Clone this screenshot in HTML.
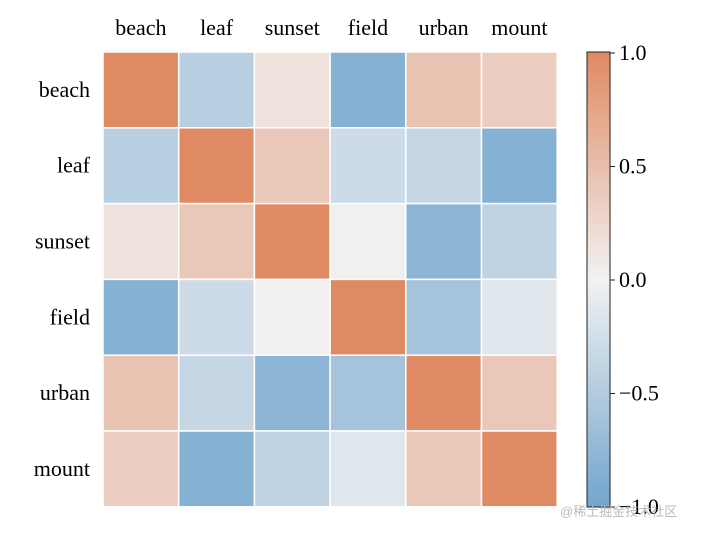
<!DOCTYPE html>
<html><head><meta charset="utf-8"><style>
body{margin:0;background:#fff;width:712px;height:532px;overflow:hidden;font-family:"Liberation Serif",serif;}
</style></head><body>
<svg id="chart" width="712" height="532" xmlns="http://www.w3.org/2000/svg">
<defs><linearGradient id="cbg" x1="0" y1="0" x2="0" y2="1">
<stop offset="0" stop-color="#df8a63"/><stop offset="0.5" stop-color="#f2f2f2"/><stop offset="1" stop-color="#72a5cc"/>
</linearGradient></defs>
<g id="cells"></g>
<g id="labels"></g>
<rect x="587" y="52" width="23" height="455" fill="url(#cbg)" stroke="#222" stroke-width="1"/>
<g id="cbticks"></g>
<text x="560" y="516" font-size="13" fill="#bbb" font-family="Liberation Sans,'Noto Sans CJK SC',sans-serif">@稀土掘金技术社区</text>
</svg>
<script>
const categories=["beach","leaf","sunset","field","urban","mount"];
const row0=[1,-0.45,0.15,-0.85,0.45,0.35];
const row1=[-0.45,1,0.4,-0.3,-0.35,-0.85];
const row2=[0.15,0.4,1,0.02,-0.8,-0.4];
const row3=[-0.85,-0.3,0.02,1,-0.6,-0.15];
const row4=[0.45,-0.35,-0.8,-0.6,1,0.4];
const row5=[0.35,-0.85,-0.4,-0.15,0.4,1];
const matrix=[row0,row1,row2,row3,row4,row5];
const cbTicks=[1.0,0.5,0.0,-0.5,-1.0];
const cbTickLabels=["1.0","0.5","0.0","\u22120.5","\u22121.0"];
const NS="http://www.w3.org/2000/svg";
const x0=103,y0=52,cw=75.7,ch=75.8;
function lerp(a,b,t){return a.map((v,i)=>Math.round(v+(b[i]-v)*t));}
function color(v){const o=[223,138,99],w=[242,242,242],b=[114,165,204];
 v=Math.max(-1,Math.min(1,v));return 'rgb('+(v>=0?lerp(w,o,v):lerp(w,b,-v)).join(',')+')';}
function cbY(v){return 280-v*227;}
const cells=document.getElementById('cells'),labels=document.getElementById('labels'),cbt=document.getElementById('cbticks');
matrix.forEach((row,i)=>row.forEach((v,j)=>{
 const r=document.createElementNS(NS,'rect');
 r.setAttribute('x',x0+j*cw);r.setAttribute('y',y0+i*ch);r.setAttribute('width',cw);r.setAttribute('height',ch);
 r.setAttribute('fill',color(v));r.setAttribute('stroke','#fff');r.setAttribute('stroke-width','1.5');
 
 
 cells.appendChild(r);
}));
categories.forEach((c,i)=>{
 const t=document.createElementNS(NS,'text');
 t.setAttribute('x',x0+i*cw+cw/2);t.setAttribute('y',35);t.setAttribute('text-anchor','middle');t.setAttribute('font-size','22');
 t.textContent=c;
 
 
 labels.appendChild(t);
 const u=document.createElementNS(NS,'text');
 u.setAttribute('x',90);u.setAttribute('y',y0+i*ch+ch/2+7);u.setAttribute('text-anchor','end');u.setAttribute('font-size','22');
 u.textContent=c;
 
 
 labels.appendChild(u);
});
cbTicks.forEach((v,i)=>{
 const y=cbY(v);
 const l=document.createElementNS(NS,'line');
 l.setAttribute('x1',610);l.setAttribute('x2',615);l.setAttribute('y1',y);l.setAttribute('y2',y);l.setAttribute('stroke','#222');
 
 
 cbt.appendChild(l);
 const t=document.createElementNS(NS,'text');
 t.setAttribute('x',619);t.setAttribute('y',y+7);t.setAttribute('font-size','22');
 t.textContent=cbTickLabels[i];
 
 
 cbt.appendChild(t);
});
</script>
</body></html>
